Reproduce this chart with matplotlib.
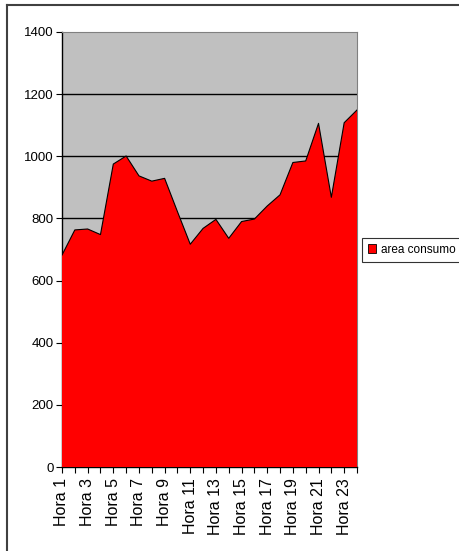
import matplotlib.pyplot as plt
from matplotlib.lines import Line2D
from matplotlib.patches import Patch

# hourly consumption
horas = ["Hora %d" % i for i in range(1, 25)]
consumo = [682, 763, 766, 748, 975, 1001, 937, 920, 929, 822, 717, 768,
           797, 736, 790, 798, 840, 876, 980, 985, 1106, 868, 1108, 1149]
yticks = [0, 200, 400, 600, 800, 1000, 1200, 1400]

plt.rcParams['font.family'] = ['Liberation Sans', 'DejaVu Sans']

W, H = 459, 551
fig = plt.figure(figsize=(W / 100, H / 100), dpi=100)
ax = fig.add_axes([62 / W, 1 - 467 / H, (357 - 62) / W, (467 - 32) / H])

x = list(range(len(horas)))
ax.set_facecolor('#c0c0c0')
ax.fill_between(x, consumo, 0, facecolor='#ff0000', edgecolor='none', zorder=3)
ax.plot(x, consumo, color='black', lw=0.8, zorder=4)

ax.set_xlim(0, len(horas) - 1)
ax.set_ylim(0, 1400)
ax.set_yticks(yticks)
ax.set_yticklabels([str(v) for v in yticks], fontsize=9.5)
for v in yticks[1:-1]:
    ax.axhline(v, color='black', lw=1, zorder=2)

ax.set_xticks(x)
ax.set_xticklabels([h if i % 2 == 0 else '' for i, h in enumerate(horas)],
                   rotation=90, fontsize=11.5)
ax.tick_params(axis='both', direction='out', length=4, width=0.8, color='black', pad=2)
ax.tick_params(axis='x', pad=4)

for s in ['left', 'bottom']:
    ax.spines[s].set_color('black')
    ax.spines[s].set_linewidth(1)
ax.spines['top'].set_color('#808080')
ax.spines['right'].set_color('#808080')

# legend
leg = fig.legend(handles=[Patch(facecolor='#ff0000', edgecolor='black', lw=0.6)],
                 labels=['area consumo'], loc='center left',
                 bbox_to_anchor=(362 / W, 1 - 250 / H),
                 prop={'size': 8.5},
                 frameon=True, fancybox=False, handlelength=0.6, handleheight=0.8,
                 handletextpad=0.5, borderpad=0.55, borderaxespad=0)
leg.get_frame().set_edgecolor('black')
leg.get_frame().set_linewidth(0.8)

# outer chart border (only top and left visible)
fig.add_artist(Line2D([7 / W, 7 / W], [0, 1 - 5 / H], transform=fig.transFigure,
                      color='#404040', lw=1.5))
fig.add_artist(Line2D([7 / W, 1], [1 - 5 / H, 1 - 5 / H], transform=fig.transFigure,
                      color='#404040', lw=1.5))

fig.savefig('out.png', dpi=100)
